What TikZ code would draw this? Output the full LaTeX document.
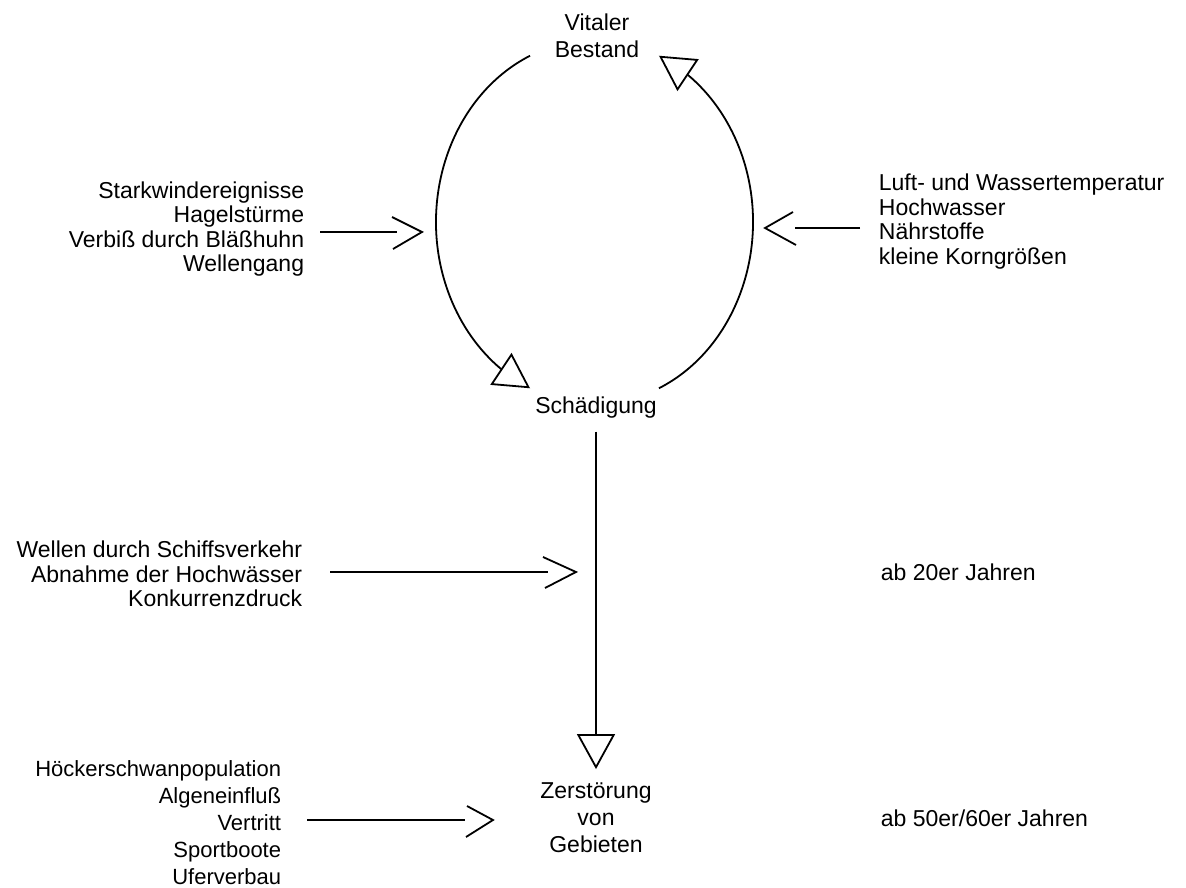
\documentclass[tikz,border=0pt]{standalone}
\usepackage{fontspec}
\setmainfont{Liberation Sans}
\usetikzlibrary{arrows.meta,bending}

\begin{document}
\begin{tikzpicture}[x=1pt, y=1pt, line width=1.8pt,
  every node/.style={font=\fontsize{23}{24.5}\selectfont, inner sep=0pt},
  state/.style={align=center, font=\fontsize{23}{27}\selectfont},
  lcause/.style={align=right, anchor=east},
  rcause/.style={align=left, anchor=west},
  tri/.style={-{Triangle[open, length=35pt, width=38pt]}}]
  \useasboundingbox (0,0) rectangle (1186,-888);

  % states of the stand
  \node[state] (vital) at (597,-36) {Vitaler\\Bestand};
  \node[state] (schad) at (596,-408) {Schädigung};
  \node[state] (zerst) at (596,-818) {Zerstörung\\von\\Gebieten};

  % cycle
  \coordinate (ring) at (594.5,-222);
  \draw[tri] (ring) ++(114:158.5 and 182) arc[start angle=114, end angle=246, x radius=158.5, y radius=182];
  \draw[tri] (ring) ++(-66:158.5 and 182) arc[start angle=-66, end angle=66, x radius=158.5, y radius=182];
  \draw[tri, shorten <=12pt, shorten >=13pt] (schad) -- (zerst);

  % causes
  \node[lcause] (wind) at (305,-229) {Starkwindereignisse\\Hagelstürme\\Verbiß durch Bläßhuhn\\Wellengang};
  \node[rcause] (temp) at (878,-221.5) {Luft- und Wassertemperatur\\Hochwasser\\Nährstoffe\\kleine Korngrößen};
  \node[lcause] (ship) at (303,-574) {Wellen durch Schiffsverkehr\\Abnahme der Hochwässer\\Konkurrenzdruck};
  \node[lcause, font=\fontsize{22}{27}\selectfont] (swan) at (282,-822.5) {Höckerschwanpopulation\\Algeneinfluß\\Vertritt\\Sportboote\\Uferverbau};
  \node[rcause] (ab20) at (880,-572) {ab 20er Jahren};
  \node[rcause] (ab50) at (880,-818) {ab 50er/60er Jahren};

  \coordinate (w) at (422,-232);
  \draw[shorten <=15pt] (wind.east |- w) -- ([xshift=-25pt]w);
  \draw ([shift={(-30,15)}]w) -- (w) -- ([shift={(-29,-17)}]w);

  \coordinate (t) at (765,-228);
  \draw[shorten <=18pt] (temp.west |- t) -- ([xshift=30pt]t);
  \draw ([shift={(28,16)}]t) -- (t) -- ([shift={(31,-17)}]t);

  \coordinate (s) at (576,-572);
  \draw[shorten <=27pt] (ship.east |- s) -- ([xshift=-28pt]s);
  \draw ([shift={(-33,15)}]s) -- (s) -- ([shift={(-31,-16)}]s);

  \coordinate (h) at (493,-820);
  \draw[shorten <=25pt] (swan.east |- h) -- ([xshift=-28pt]h);
  \draw ([shift={(-26,14)}]h) -- (h) -- ([shift={(-27,-17)}]h);
\end{tikzpicture}
\end{document}
